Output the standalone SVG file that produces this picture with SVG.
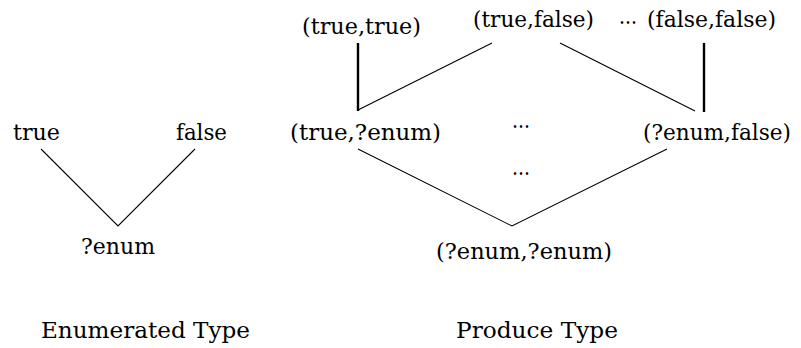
<svg xmlns="http://www.w3.org/2000/svg" width="801" height="348" viewBox="0 0 801 348">
<style>
  text { font-family: "DejaVu Serif", "Liberation Serif", serif; font-size: 23px; fill: #000; }
  .e { fill: none; stroke: #000; stroke-width: 1.1; }
  .v { fill: none; stroke: #000; stroke-width: 2.4; }
</style>
<rect width="801" height="348" fill="#fff"/>
<g id="connectors">
  <polyline class="e" points="41,149 118,226 195,149"/>
  <line class="v" x1="358" y1="43" x2="358" y2="111"/>
  <line class="e" x1="358" y1="110" x2="492" y2="43"/>
  <line class="e" x1="560" y1="43" x2="695" y2="111"/>
  <line class="v" x1="704" y1="43" x2="704" y2="112"/>
  <polyline class="e" points="358,149 512,226 667,149"/>
</g>
<g id="n-true"><text x="13" y="140" textLength="47" lengthAdjust="spacingAndGlyphs">true</text></g>
<g id="n-false"><text x="176" y="140" textLength="51" lengthAdjust="spacingAndGlyphs">false</text></g>
<g id="n-enum"><text x="81" y="254" textLength="74" lengthAdjust="spacingAndGlyphs">?enum</text></g>
<g id="n-tt"><text x="302" y="34" textLength="119" lengthAdjust="spacingAndGlyphs">(true,true)</text></g>
<g id="n-tf"><text x="473" y="27" textLength="121" lengthAdjust="spacingAndGlyphs">(true,false)</text></g>
<g id="dots-top"><text x="619" y="24" textLength="18" lengthAdjust="spacingAndGlyphs">...</text></g>
<g id="n-ff"><text x="647" y="27" textLength="129" lengthAdjust="spacingAndGlyphs">(false,false)</text></g>
<g id="n-te"><text x="290" y="140" textLength="151" lengthAdjust="spacingAndGlyphs">(true,?enum)</text></g>
<g id="dots-mid"><text x="512" y="128" textLength="18" lengthAdjust="spacingAndGlyphs">...</text></g>
<g id="n-ef"><text x="643" y="140" textLength="148" lengthAdjust="spacingAndGlyphs">(?enum,false)</text></g>
<g id="dots-low"><text x="512" y="175" textLength="18" lengthAdjust="spacingAndGlyphs">...</text></g>
<g id="n-ee"><text x="436" y="259" textLength="176" lengthAdjust="spacingAndGlyphs">(?enum,?enum)</text></g>
<g id="cap-enum"><text x="41" y="338" textLength="209" lengthAdjust="spacingAndGlyphs">Enumerated Type</text></g>
<g id="cap-prod"><text x="456" y="338" textLength="162" lengthAdjust="spacingAndGlyphs">Produce Type</text></g>
</svg>
